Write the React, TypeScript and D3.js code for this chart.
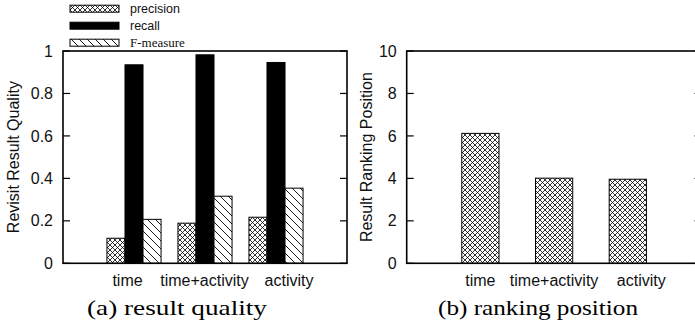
import React from "react";
import * as d3 from "d3";

// categories and values
const categories = ["time", "time+activity", "activity"];
const seriesNames = ["precision", "recall", "F-measure"];
const precision = [0.118, 0.189, 0.217];
const recall = [0.935, 0.982, 0.946];
const fMeasure = [0.207, 0.316, 0.354];
const rankPosition = [6.12, 4.01, 3.96];
const leftTicks = [0, 0.2, 0.4, 0.6, 0.8, 1];
const leftTickLabels = ["0", "0.2", "0.4", "0.6", "0.8", "1"];
const rightTicks = [0, 2, 4, 6, 8, 10];

const W = 695;
const H = 331;
const sans = "'Liberation Sans', Arial, sans-serif";
const serif = "'Liberation Serif', 'Times New Roman', serif";
const fills = ["url(#xhatch)", "#000", "url(#diag)"];
// the original labels were padded, so they sit a bit off the cluster centre
const leftLabelShift = [-6.5, -0.5, 13];
const rightLabelShift = [0, 0, 13.5];

const Frame = ({ x, y, ticks, labels }: any) => {
  const [x0, x1] = x.range();
  const [y0, y1] = y.range();
  return (
    <g>
      {ticks.map((t: number, i: number) => (
        <g key={i}>
          <line x1={x0} x2={x0 + 7} y1={y(t)} y2={y(t)} stroke="#000" strokeWidth={1.2} />
          <line x1={x1 - 7} x2={x1} y1={y(t)} y2={y(t)} stroke="#000" strokeWidth={1.2} />
          <text x={x0 - 10} y={y(t)} dy="0.35em" textAnchor="end" fontSize={16} fontFamily={sans} fill="#111">
            {labels[i]}
          </text>
        </g>
      ))}
      <rect x={x0} y={y1} width={x1 - x0} height={y0 - y1} fill="none" stroke="#000" strokeWidth={1.6} />
    </g>
  );
};

export default function App() {
  // (a) result quality
  const xa = d3.scaleLinear().domain([0, 4]).range([63, 347]);
  const ya = d3.scaleLinear().domain([0, 1]).range([263.3, 51]);
  const series = [precision, recall, fMeasure];
  const bw = 0.254;

  // (b) ranking position
  const xb = d3.scaleLinear().domain([0, 4]).range([406.7, 701.5]);
  const yb = d3.scaleLinear().domain([0, 10]).range([263.3, 51]);
  const bwb = 0.505;

  return (
    <svg width={W} height={H} style={{ position: "absolute", left: 0, top: 0, background: "#fff" }}>
      <defs>
        <pattern id="xhatch" width={5} height={5} patternUnits="userSpaceOnUse">
          <rect width={5} height={5} fill="#fff" />
          <path d="M0,0L5,5M5,0L0,5M-1,4L1,6M4,-1L6,1M-1,1L1,-1M4,6L6,4" stroke="#000" strokeWidth={0.8} />
        </pattern>
        <pattern id="diag" width={8} height={8} patternUnits="userSpaceOnUse">
          <rect width={8} height={8} fill="#fff" />
          <path d="M0,0L8,8M-2,6L2,10M6,-2L10,2" stroke="#000" strokeWidth={0.9} />
        </pattern>
      </defs>

      {/* legend */}
      {seriesNames.map((s, i) => {
        const cy = 8.7 + i * 17;
        return (
          <g key={s}>
            <rect x={70} y={cy - 3.5} width={49} height={7} fill={fills[i]} stroke="#000" strokeWidth={1} />
            <text
              x={130}
              y={cy}
              dy="0.35em"
              fontSize={i === 2 ? 13 : 12.5}
              fontFamily={i === 2 ? serif : sans}
              fill="#111"
            >
              {s}
            </text>
          </g>
        );
      })}

      {/* panel a */}
      {categories.map((c, ci) =>
        series.map((vals, si) => (
          <rect
            key={c + si}
            x={xa(ci + 1 + (si - 1.5) * bw)}
            y={ya(vals[ci])}
            width={xa(bw) - xa(0)}
            height={ya(0) - ya(vals[ci])}
            fill={fills[si]}
            stroke="#000"
            strokeWidth={1}
          />
        ))
      )}
      <Frame x={xa} y={ya} ticks={leftTicks} labels={leftTickLabels} />
      {categories.map((l, i) => (
        <text key={l} x={xa(i + 1) + leftLabelShift[i]} y={285.5} textAnchor="middle" fontSize={16} fontFamily={sans} fill="#111">
          {l}
        </text>
      ))}
      <text transform={`translate(19,${(ya(0) + ya(1)) / 2}) rotate(-90)`} textAnchor="middle" fontSize={16} fontFamily={sans} fill="#111">
        Revisit Result Quality
      </text>
      <text x={177} y={315} textAnchor="middle" fontSize={21} fontFamily={serif} textLength={180} lengthAdjust="spacingAndGlyphs">
        (a) result quality
      </text>

      {/* panel b */}
      {categories.map((c, ci) => (
        <rect
          key={c}
          x={xb(ci + 1 - bwb / 2)}
          y={yb(rankPosition[ci])}
          width={xb(bwb) - xb(0)}
          height={yb(0) - yb(rankPosition[ci])}
          fill={fills[0]}
          stroke="#000"
          strokeWidth={1}
        />
      ))}
      <Frame x={xb} y={yb} ticks={rightTicks} labels={rightTicks.map(String)} />
      {categories.map((l, i) => (
        <text key={l} x={xb(i + 1) + rightLabelShift[i]} y={285.5} textAnchor="middle" fontSize={16} fontFamily={sans} fill="#111">
          {l}
        </text>
      ))}
      <text transform={`translate(372,${(yb(0) + yb(10)) / 2}) rotate(-90)`} textAnchor="middle" fontSize={16} fontFamily={sans} fill="#111">
        Result Ranking Position
      </text>
      <text x={538} y={315} textAnchor="middle" fontSize={21} fontFamily={serif} textLength={200} lengthAdjust="spacingAndGlyphs">
        (b) ranking position
      </text>
    </svg>
  );
}
